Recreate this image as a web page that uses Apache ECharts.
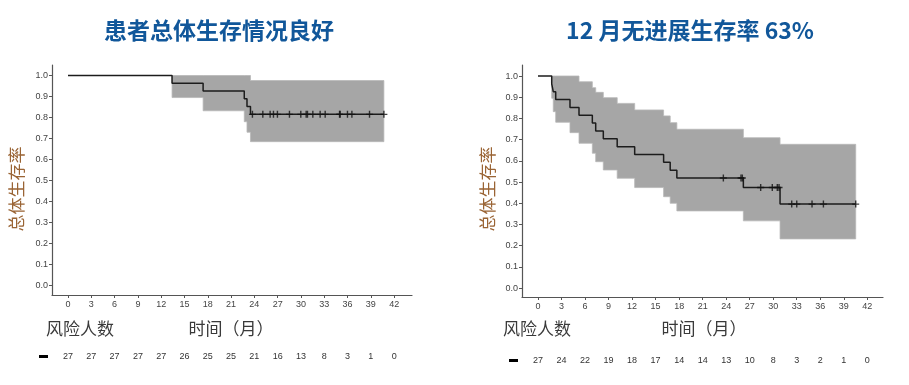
<!DOCTYPE html>
<html><head><meta charset="utf-8">
<script src="https://cdn.jsdelivr.net/npm/echarts@6/dist/echarts.min.js"></script>
<style>html,body{margin:0;padding:0;background:#fff}#c{width:909px;height:385px}</style>
</head><body><div id="c"></div>
<script>
// ---------- data ----------
const titleOS = '患者总体生存情况良好';
const titlePFS = '12 月无进展生存率 63%';
const yLabel = '总体生存率';
const riskLabel = '风险人数';
const xLabel = '时间（月）';

const xTicks = [0,3,6,9,12,15,18,21,24,27,30,33,36,39,42];
const yTicks = [0,0.1,0.2,0.3,0.4,0.5,0.6,0.7,0.8,0.9,1.0];

// Overall survival (left)
const osStepT = [0, 13.4, 17.4, 22.7, 23.05, 23.5, 40.68];
const osStepS = [1.0, 0.963, 0.926, 0.889, 0.852, 0.815, 0.815];
const osCensorT = [23.75, 25.09, 26.03, 26.46, 26.97, 28.52, 29.98, 30.67, 30.84, 31.53, 32.47, 33.12, 34.97, 35.05, 35.99, 36.56, 38.83, 40.68];
const osCiStart = [13.4, 17.4, 22.7, 23.05, 23.5];
const osCiEnd   = [17.4, 22.7, 23.05, 23.5, 40.68];
const osCiLow   = [0.895, 0.832, 0.78, 0.73, 0.685];
const osCiHigh  = [1.0, 1.0, 1.0, 1.0, 0.976];
const osRisk = [27,27,27,27,27,26,25,25,21,16,13,8,3,1,0];

// Progression-free survival (right)
const pfsStepT = [0, 1.75, 1.95, 2.26, 4.08, 5.23, 6.93, 7.36, 8.33, 10.1, 12.33, 16.02, 16.86, 17.71, 26.19, 30.87, 40.52];
const pfsStepS = [1.0, 0.963, 0.926, 0.889, 0.852, 0.815, 0.778, 0.741, 0.704, 0.667, 0.630, 0.593, 0.556, 0.519, 0.474, 0.396, 0.396];
const pfsCensorT = [23.64, 25.89, 26.06, 28.4, 29.88, 30.52, 30.74, 32.36, 33.0, 34.95, 36.4, 40.52];
const pfsCiStart = [1.75, 1.95, 2.26, 4.08, 5.23, 6.93, 7.36, 8.33, 10.1, 12.33, 16.02, 16.86, 17.71, 26.19, 30.87];
const pfsCiEnd   = [1.95, 2.26, 4.08, 5.23, 6.93, 7.36, 8.33, 10.1, 12.33, 16.02, 16.86, 17.71, 26.19, 30.87, 40.52];
const pfsCiLow   = [0.895, 0.832, 0.782, 0.733, 0.683, 0.636, 0.596, 0.557, 0.518, 0.474, 0.431, 0.40, 0.364, 0.317, 0.232];
const pfsCiHigh  = [1.0, 1.0, 1.0, 1.0, 0.973, 0.945, 0.923, 0.898, 0.871, 0.84, 0.812, 0.78, 0.749, 0.709, 0.678];
const pfsRisk = [27,24,22,19,18,17,14,14,13,10,8,3,2,1,0];

// ---------- helpers ----------
function stepAt(T, S, t){ let v = S[0]; for (let i=0;i<T.length;i++){ if (T[i] <= t) v = S[i]; } return v; }
const tickFont = "'Liberation Sans Narrow','Liberation Sans',Arial,sans-serif";
const cjk = "'Noto Sans CJK SC','Noto Sans',sans-serif";
const PLUS = 'path://M4,0H6V4H10V6H6V10H4V6H0V4H4Z';

function bandSeries(idx, st, en, lo, hi){
  return {
    type:'custom', xAxisIndex: idx*2, yAxisIndex: idx, z: 1, silent: true,
    data: [[st[0], lo[0]]],
    renderItem: function(params, api){
      const pts = [];
      for (let i=0;i<st.length;i++){ pts.push(api.coord([st[i], hi[i]])); pts.push(api.coord([en[i], hi[i]])); }
      for (let i=st.length-1;i>=0;i--){ pts.push(api.coord([en[i], lo[i]])); pts.push(api.coord([st[i], lo[i]])); }
      return {type:'polygon', shape:{points: pts}, style:{fill:'#a6a6a6', stroke:'#b8b8b8', lineWidth:0.8}};
    }
  };
}
function lineSeries(idx, T, S){
  return {type:'line', xAxisIndex: idx*2, yAxisIndex: idx, z: 3, step:'end', showSymbol:false, silent:true,
    data: T.map((t,i)=>[t,S[i]]), lineStyle:{color:'#1c1c1c', width:1.5}};
}
function censorSeries(idx, C, T, S){
  return {type:'scatter', xAxisIndex: idx*2, yAxisIndex: idx, z: 4, silent:true, symbol: PLUS, symbolSize: 7,
    data: C.map(t=>[t, stepAt(T,S,t)]), itemStyle:{color:'#111'}};
}
function xAxes(gi, min, max, risk, offset){
  return [{
    type:'value', gridIndex: gi, min: min, max: max, position:'bottom',
    axisLine:{show:true, onZero:false, lineStyle:{color:'#555', width:1.2}},
    axisTick:{show:true, length:3, customValues: xTicks, lineStyle:{color:'#555'}},
    axisLabel:{customValues: xTicks, color:'#444', fontSize:9, fontFamily: tickFont, margin:5},
    splitLine:{show:false}
  },{
    type:'value', gridIndex: gi, min: min, max: max, position:'bottom', offset: offset,
    axisLine:{show:false}, axisTick:{show:false},
    axisLabel:{customValues: xTicks, color:'#333', fontSize:9, fontFamily: tickFont, margin:5,
      formatter: v => { const k = xTicks.indexOf(Math.round(v)); return k>=0 ? String(risk[k]) : ''; }},
    splitLine:{show:false}
  }];
}
function yAxis(gi, min, max){
  return {type:'value', gridIndex: gi, min: min, max: max,
    axisLine:{show:true, onZero:false, lineStyle:{color:'#555', width:1.2}},
    axisTick:{show:true, length:3, customValues: yTicks, lineStyle:{color:'#555'}},
    axisLabel:{customValues: yTicks, color:'#444', fontSize:9, fontFamily: tickFont, margin:4, formatter: v => v.toFixed(1)},
    splitLine:{show:false}};
}

const chart = echarts.init(document.getElementById('c'), null, {renderer:'canvas'});
chart.setOption({
  animation:false,
  backgroundColor:'#fff',
  grid:[
    {left:52, right:497, top:65, bottom:90},
    {left:522, right:26, top:65, bottom:88}
  ],
  xAxis: [].concat(xAxes(0, -2.06, 44.3, osRisk, 52), xAxes(1, -2.04, 44.0, pfsRisk, 54)),
  yAxis: [yAxis(0, -0.045, 1.05), yAxis(1, -0.042, 1.052)],
  series: [
    bandSeries(0, osCiStart, osCiEnd, osCiLow, osCiHigh),
    lineSeries(0, osStepT, osStepS),
    censorSeries(0, osCensorT, osStepT, osStepS),
    bandSeries(1, pfsCiStart, pfsCiEnd, pfsCiLow, pfsCiHigh),
    lineSeries(1, pfsStepT, pfsStepS),
    censorSeries(1, pfsCensorT, pfsStepT, pfsStepS)
  ],
  graphic: [
    {type:'text', x:219, y:30, style:{text:titleOS, fill:'#11579a', font:"bold 23px "+cjk, textAlign:'center', textVerticalAlign:'middle'}},
    {type:'text', x:690, y:30, style:{text:titlePFS, fill:'#11579a', font:"bold 23px "+cjk, textAlign:'center', textVerticalAlign:'middle'}},
    {type:'text', x:17, y:189, rotation:Math.PI/2, style:{text:yLabel, fill:'#9a6434', font:"17px "+cjk, textAlign:'center', textVerticalAlign:'middle'}},
    {type:'text', x:488, y:189, rotation:Math.PI/2, style:{text:yLabel, fill:'#9a6434', font:"17px "+cjk, textAlign:'center', textVerticalAlign:'middle'}},
    {type:'text', x:46, y:329, style:{text:riskLabel, fill:'#3a3a3a', font:"17px "+cjk, textAlign:'left', textVerticalAlign:'middle'}},
    {type:'text', x:231, y:329, style:{text:xLabel, fill:'#3a3a3a', font:"17px "+cjk, textAlign:'center', textVerticalAlign:'middle'}},
    {type:'text', x:503, y:329, style:{text:riskLabel, fill:'#3a3a3a', font:"17px "+cjk, textAlign:'left', textVerticalAlign:'middle'}},
    {type:'text', x:704, y:329, style:{text:xLabel, fill:'#3a3a3a', font:"17px "+cjk, textAlign:'center', textVerticalAlign:'middle'}},
    {type:'rect', shape:{x:39, y:355, width:9, height:3}, style:{fill:'#000'}},
    {type:'rect', shape:{x:509, y:359, width:9, height:3}, style:{fill:'#000'}}
  ]
});
</script></body></html>
